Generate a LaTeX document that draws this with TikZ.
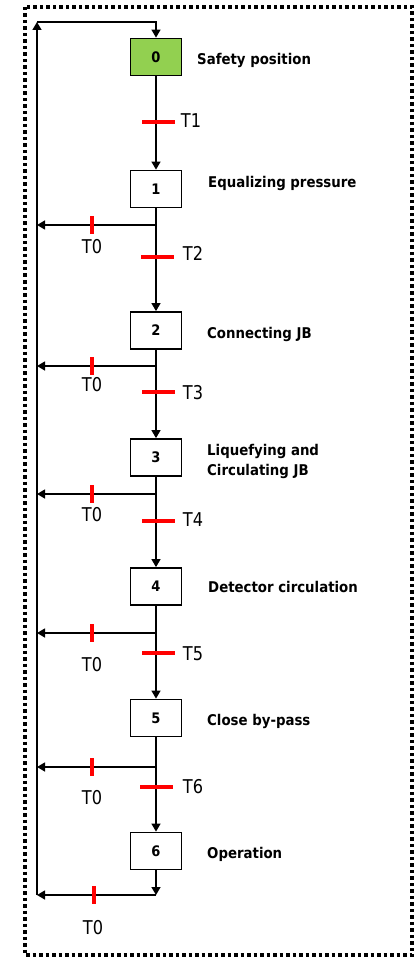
\documentclass[tikz,border=0pt]{standalone}
\usepackage{fontspec}
\setmainfont{DejaVu Sans}[FakeStretch=0.9]
\newfontfamily\tlabelfont{DejaVu Sans}[FakeStretch=0.85]
\usetikzlibrary{arrows.meta}
\definecolor{stepgreen}{HTML}{92D050}
\tikzset{
  flowarrow/.style={-{Triangle[length=8pt,width=9pt]}, line width=1.4pt},
  stepbox/.style={draw, line width=1.8pt, fill=white, minimum width=51pt, minimum height=37pt, inner sep=0pt, font=\bfseries\fontsize{14.5}{16}\selectfont},
  initbox/.style={stepbox, fill=stepgreen},
  action/.style={anchor=west, inner sep=0pt, align=left, font=\bfseries\fontsize{14.8}{20}\selectfont},
  transbar/.style={fill=red, inner sep=0pt, minimum width=33pt, minimum height=4pt},
  resetbar/.style={fill=red, inner sep=0pt, minimum width=4pt, minimum height=18pt},
  tlabel/.style={inner sep=0pt, font=\tlabelfont\fontsize{19}{20}\selectfont},
  outerframe/.style={line width=3.5pt, dash pattern=on 3.5pt off 3pt}
}
\begin{document}
\begin{tikzpicture}[x=1pt, y=-1pt]
  \useasboundingbox (0,0) rectangle (419,957);
  \draw[outerframe] (25,7) rectangle (412,955);
  % steps
  \node[initbox] (s0) at (156,57) {0};
  \node[stepbox] (s1) at (156,189) {1};
  \node[stepbox] (s2) at (156,330.5) {2};
  \node[stepbox] (s3) at (156,457.5) {3};
  \node[stepbox] (s4) at (156,586.5) {4};
  \node[stepbox] (s5) at (156,718) {5};
  \node[stepbox] (s6) at (156,851) {6};
  \node[action] (a0) at (197,60) {Safety position};
  \node[action] (a1) at (208,183) {Equalizing pressure};
  \node[action] (a2) at (207,334) {Connecting JB};
  \node[action] (a3) at (207,461) {Liquefying and\\Circulating JB};
  \node[action] (a4) at (208,587) {Detector circulation};
  \node[action] (a5) at (207,721) {Close by-pass};
  \node[action] (a6) at (207,854) {Operation};
  % branch points back to step 0
  \coordinate (b1) at (156,225); \coordinate (l1) at (37,225);
  \coordinate (b2) at (156,366); \coordinate (l2) at (37,366);
  \coordinate (b3) at (156,494); \coordinate (l3) at (37,494);
  \coordinate (b4) at (156,633); \coordinate (l4) at (37,633);
  \coordinate (b5) at (156,767); \coordinate (l5) at (37,767);
  \coordinate (b6) at (156,895); \coordinate (l6) at (37,895);
  \coordinate (top) at (37,22);
  \draw[flowarrow] (s0) -- (s1);
  \draw[flowarrow] (s1) -- (s2);
  \draw[flowarrow] (s2) -- (s3);
  \draw[flowarrow] (s3) -- (s4);
  \draw[flowarrow] (s4) -- (s5);
  \draw[flowarrow] (s5) -- (s6);
  \draw[flowarrow] (s6) -- (b6);
  \draw[flowarrow] (b1) -- (l1);
  \draw[flowarrow] (b2) -- (l2);
  \draw[flowarrow] (b3) -- (l3);
  \draw[flowarrow] (b4) -- (l4);
  \draw[flowarrow] (b5) -- (l5);
  \draw[flowarrow] (b6) -- (l6);
  \draw[flowarrow] (l6) -- (top);
  \draw[flowarrow] (top) -| (s0);
  % transitions
  \node[transbar] (t1) at (158.5,122) {};
  \node[transbar] (t2) at (157.5,257) {};
  \node[transbar] (t3) at (158.5,392) {};
  \node[transbar] (t4) at (158.5,521) {};
  \node[transbar] (t5) at (158.5,653) {};
  \node[transbar] (t6) at (156.5,787) {};
  \node[tlabel] at (191,121) {T1};
  \node[tlabel] at (193,253) {T2};
  \node[tlabel] at (193,393) {T3};
  \node[tlabel] at (193,520) {T4};
  \node[tlabel] at (193,654) {T5};
  \node[tlabel] at (193,787) {T6};
  \node[resetbar] (r1) at (92,225) {};
  \node[resetbar] (r2) at (92,366) {};
  \node[resetbar] (r3) at (92,494) {};
  \node[resetbar] (r4) at (92,633) {};
  \node[resetbar] (r5) at (92,767) {};
  \node[resetbar] (r6) at (94,895) {};
  \node[tlabel] at (92,247) {T0};
  \node[tlabel] at (92,385) {T0};
  \node[tlabel] at (92,515) {T0};
  \node[tlabel] at (92,665) {T0};
  \node[tlabel] at (92,798) {T0};
  \node[tlabel] at (93,928) {T0};
\end{tikzpicture}
\end{document}
